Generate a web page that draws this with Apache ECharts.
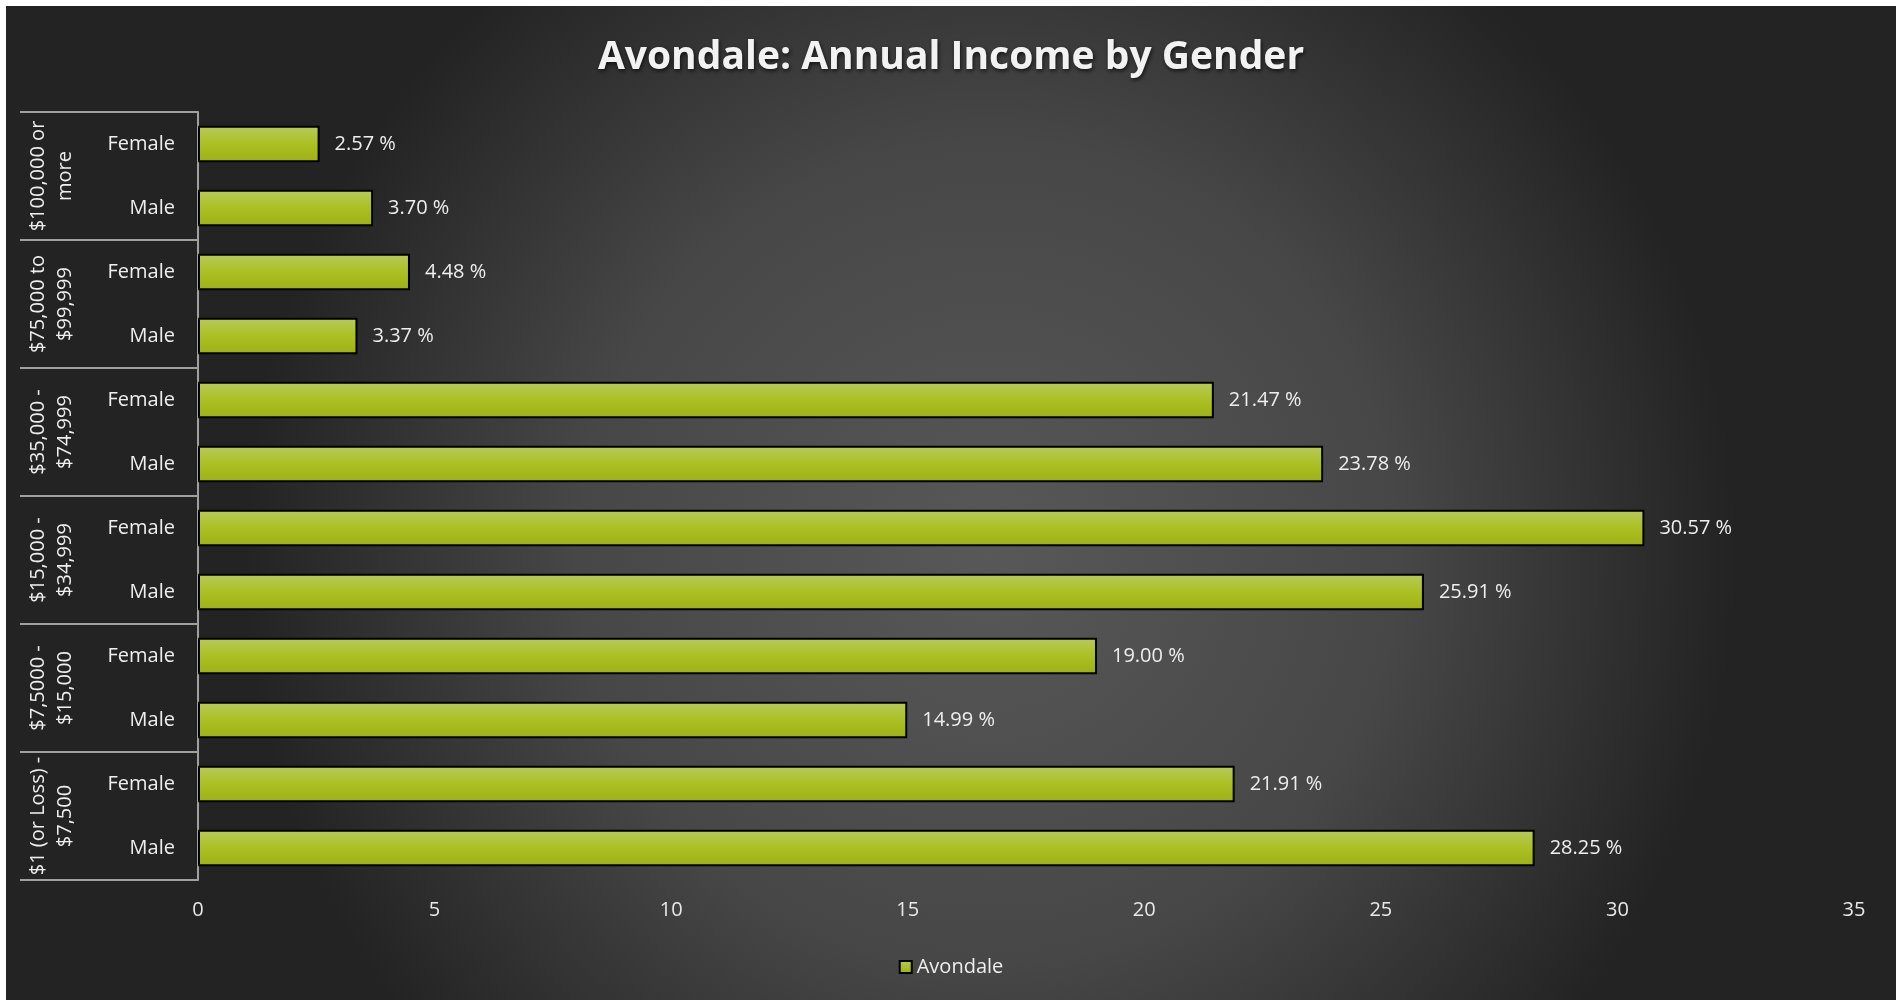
<!DOCTYPE html>
<html>
<head>
<meta charset="utf-8">
<script src="https://cdn.jsdelivr.net/npm/echarts@6/dist/echarts.min.js"></script>
<style>
html,body{margin:0;padding:0;background:#ffffff;overflow:hidden;width:1902px;height:1001px;}
#chart{position:absolute;left:6px;top:6px;width:1890px;height:994px;}
</style>
</head>
<body>
<div id="chart"></div>
<script>
const titleText = 'Avondale: Annual Income by Gender';
const seriesName = 'Avondale';
const groups = ['$100,000 or\nmore', '$75,000 to\n$99,999', '$35,000 -\n$74,999', '$15,000 -\n$34,999', '$7,5000 -\n$15,000', '$1 (or Loss) -\n$7,500'];
const genders = ['Female', 'Male'];
const female = [2.57, 4.48, 21.47, 30.57, 19.00, 21.91];
const male = [3.70, 3.37, 23.78, 25.91, 14.99, 28.25];
const xTicks = [0, 5, 10, 15, 20, 25, 30, 35];

const categories = [];
const values = [];
groups.forEach((g, i) => {
  categories.push(genders[0]); values.push(female[i]);
  categories.push(genders[1]); values.push(male[i]);
});

const font = '"Open Sans", "Noto Sans", sans-serif';
const chart = echarts.init(document.getElementById('chart'));
chart.setOption({
  backgroundColor: {
    type: 'radial', x: 0.52, y: 0.55, r: 0.75,
    colorStops: [{offset: 0, color: '#585858'}, {offset: 0.55, color: '#474747'}, {offset: 1, color: '#232323'}]
  },
  title: {
    text: titleText, left: 'center', top: 27,
    textStyle: {color: '#f2f2f2', fontSize: 39, fontWeight: 'bold', fontFamily: font,
      textShadowColor: 'rgba(0,0,0,0.7)', textShadowBlur: 4, textShadowOffsetY: 2, textShadowOffsetX: 1}
  },
  legend: {
    bottom: 18, left: 'center', icon: 'rect', itemWidth: 12, itemHeight: 12, itemGap: 6,
    textStyle: {color: '#eeeeee', fontSize: 20, fontFamily: font},
    itemStyle: {borderColor: '#000', borderWidth: 2}
  },
  grid: {left: 192, right: 42, top: 106, bottom: 120},
  xAxis: {
    type: 'value', min: xTicks[0], max: xTicks[xTicks.length - 1], interval: 5,
    splitLine: {show: false}, axisLine: {show: false}, axisTick: {show: false},
    axisLabel: {color: '#e8e8e8', fontSize: 20, fontFamily: font, margin: 20}
  },
  yAxis: [{
    type: 'category', data: categories, inverse: true,
    axisLine: {show: true, lineStyle: {color: '#a0a0a0', width: 2}},
    axisTick: {show: false},
    axisLabel: {color: '#eeeeee', fontSize: 20, fontFamily: font, margin: 23}
  }, {
    type: 'category', data: groups, inverse: true, position: 'left', offset: 0,
    axisLine: {show: false},
    axisTick: {show: true, length: 178, interval: 0, lineStyle: {color: '#a0a0a0', width: 2}},
    axisLabel: {color: '#eeeeee', fontSize: 20, fontFamily: font, rotate: 90, margin: 119, lineHeight: 27, interval: 0, align: 'center'}
  }],
  series: [{
    name: seriesName, type: 'bar', data: values, yAxisIndex: 0, barWidth: '57%',
    itemStyle: {
      color: {type: 'linear', x: 0, y: 0, x2: 0, y2: 1,
        colorStops: [{offset: 0, color: '#b9ca58'}, {offset: 0.5, color: '#abc023'}, {offset: 1, color: '#9db015'}]},
      borderColor: '#000', borderWidth: 2
    },
    label: {show: true, position: 'right', distance: 15, color: '#eeeeee', fontSize: 20, fontFamily: font,
      formatter: p => p.value.toFixed(2) + ' %'}
  }]
});
</script>
</body>
</html>
